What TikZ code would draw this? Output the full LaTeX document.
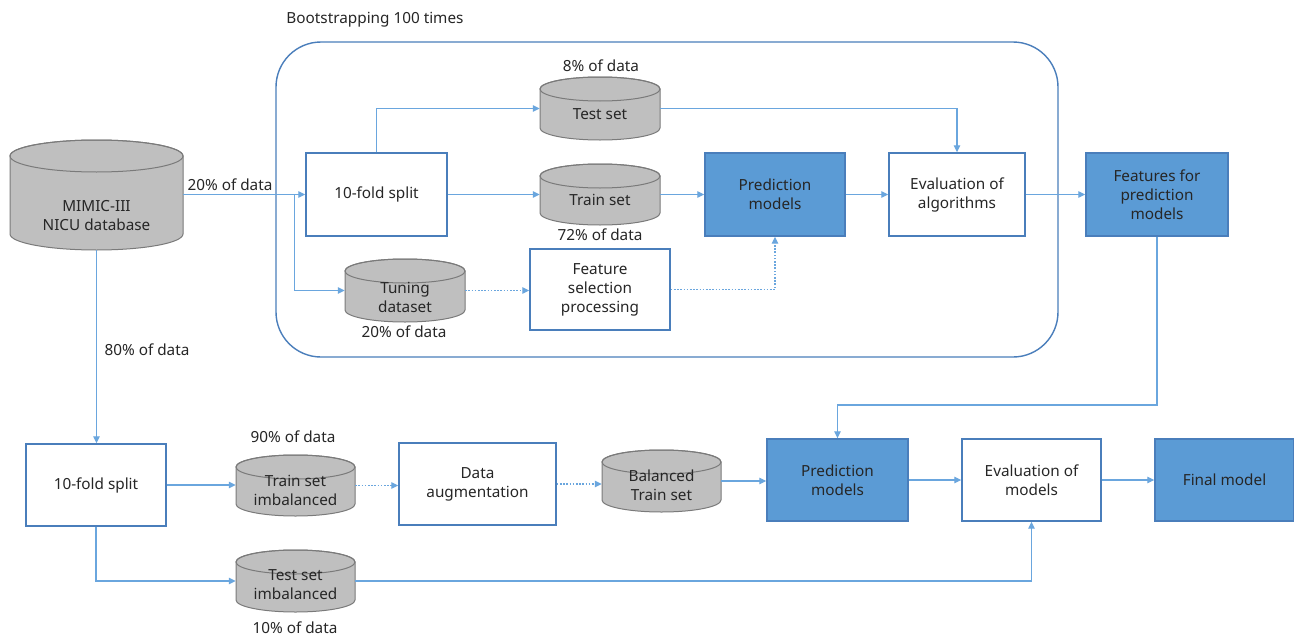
\documentclass[tikz,border=0pt]{standalone}
\usepackage{fontspec}
\setmainfont{Noto Sans}
\usetikzlibrary{arrows.meta}
\definecolor{boxline}{HTML}{4A7EBB}
\definecolor{bluefill}{HTML}{5B9BD5}
\definecolor{connc}{HTML}{6AA6DE}
\definecolor{cylfill}{HTML}{BFBFBF}
\definecolor{cylline}{HTML}{7A7A7A}
\definecolor{txt}{HTML}{262626}
\tikzset{
  txtfont/.style={font=\fontsize{15.3}{19}\selectfont},
  box/.style={draw=boxline, line width=1.4pt, fill=white, inner sep=0pt, align=center, text=txt, txtfont},
  bluebox/.style={box, fill=bluefill},
  conn/.style={draw=connc, line width=1.1pt, -{Triangle[length=7pt,width=6.5pt]}},
  dotconn/.style={conn, dash pattern=on 1.6pt off 1.6pt},
  lbl/.style={text=txt, txtfont, inner sep=0pt, align=center},
}
\newcommand\dbcyl[8]{%
  \pgfmathsetmacro\cx{(#2+#4)/2}\pgfmathsetmacro\rx{(#4-#2)/2}%
  \pgfmathsetmacro\cy{(#3+#5)/2}\pgfmathsetmacro\hh{#5-#3}%
  \pgfmathsetmacro\ta{#3+#6}\pgfmathsetmacro\tb{#5-#6}%
  \filldraw[fill=cylfill, draw=cylline, line width=1pt] (#2,\ta) -- (#2,\tb)
    arc[start angle=180, end angle=360, x radius=\rx pt, y radius=#6pt] -- (#4,\ta)
    arc[start angle=0, end angle=180, x radius=\rx pt, y radius=#6pt] -- cycle;
  \draw[cylline, line width=1pt] (\cx,\ta) ellipse[x radius=\rx pt, y radius=#6pt];
  \node[inner sep=0pt, minimum width=2*\rx pt, minimum height=\hh pt] (#1) at (\cx,\cy) {};
  \node[lbl] (#1-t) at (\cx,#8) {#7};
}
\begin{document}
\begin{tikzpicture}[x=1pt,y=-1pt]
\useasboundingbox (0,0) rectangle (1294,637);
\fill[white] (0,0) rectangle (1294,637);

% bootstrapping frame
\node[draw=boxline, line width=1.4pt, rounded corners=45pt, minimum width=782pt, minimum height=315pt, inner sep=0pt] (boot) at (667,199.5) {};
\node[lbl] (boottitle) at (375,20) {Bootstrapping 100 times};

% cylinders
\dbcyl{mimic}{10}{140}{183}{250}{16}{MIMIC-III\\NICU database}{216}
\dbcyl{test}{540}{77}{660}{140}{12}{Test set}{114}
\dbcyl{train}{540}{164}{660}{225}{12}{Train set}{200}
\dbcyl{tuning}{345}{259}{465}{322}{12}{Tuning\\dataset}{297}
\dbcyl{trainimb}{236}{455}{355}{516}{12}{Train set\\imbalanced}{490}
\dbcyl{bal}{602}{450}{721}{512}{12}{Balanced\\Train set}{485}
\dbcyl{testimb}{236}{550}{355}{612}{12}{Test set\\imbalanced}{585}

% boxes
\node[box, minimum width=141pt, minimum height=83pt] (split1) at (376.5,194.5) {10-fold split};
\node[bluebox, minimum width=140pt, minimum height=83pt] (pred1) at (775,194.5) {Prediction\\models};
\node[box, minimum width=136pt, minimum height=83pt] (evalalg) at (957,194.5) {Evaluation of\\algorithms};
\node[bluebox, minimum width=142pt, minimum height=83pt] (feat) at (1157,194.5) {Features for\\prediction\\models};
\node[box, minimum width=140pt, minimum height=81pt] (fsel) at (600,289.5) {Feature\\selection\\processing};
\node[box, minimum width=140pt, minimum height=82pt] (split2) at (96,485) {10-fold split};
\node[box, minimum width=157pt, minimum height=82pt] (aug) at (477.5,484) {Data\\augmentation};
\node[bluebox, minimum width=141pt, minimum height=82pt] (pred2) at (837.5,480) {Prediction\\models};
\node[box, minimum width=139pt, minimum height=82pt] (evalmod) at (1031.5,480) {Evaluation of\\models};
\node[bluebox, minimum width=139pt, minimum height=82pt] (final) at (1224.5,480) {Final model};

% labels
\node[lbl] (l20a) at (230,185) {20\% of data};
\node[lbl] (l8) at (601,66) {8\% of data};
\node[lbl] (l72) at (600,235) {72\% of data};
\node[lbl] (l20b) at (404,332) {20\% of data};
\node[lbl] (l80) at (147,350) {80\% of data};
\node[lbl] (l90) at (293,437) {90\% of data};
\node[lbl] (l10) at (295,628) {10\% of data};

% connectors
\coordinate (bend) at (0,405);
\draw[conn] (mimic.east |- split1.west) -- (split1.west);
\draw[conn] (split1.west) ++(-11,0) |- (tuning.west);
\draw[conn] (split1.north) |- (test.west);
\draw[conn] (test.east) -| (evalalg.north);
\draw[conn] (split1.east) -- (train.west);
\draw[conn] (train.east) -- (pred1.west);
\draw[conn] (pred1.east) -- (evalalg.west);
\draw[conn] (evalalg.east) -- (feat.west);
\draw[dotconn] (tuning.east) -- (tuning.east -| fsel.west);
\draw[dotconn] (fsel.east) -| (pred1.south);
\draw[conn] (feat.south) -- (feat.south |- bend) -| (pred2.north);
\draw[conn] (mimic.south) -- (mimic.south |- split2.north);
\draw[conn] (split2.east) -- (split2.east -| trainimb.west);
\draw[dotconn] (trainimb.east) -- (trainimb.east -| aug.west);
\draw[dotconn] (aug.east) -- (aug.east -| bal.west);
\draw[conn] (bal.east) -- (bal.east -| pred2.west);
\draw[conn] (pred2.east) -- (evalmod.west);
\draw[conn] (evalmod.east) -- (final.west);
\draw[conn] (split2.south) |- (testimb.west);
\draw[conn] (testimb.east) -| (evalmod.south);
\end{tikzpicture}
\end{document}
